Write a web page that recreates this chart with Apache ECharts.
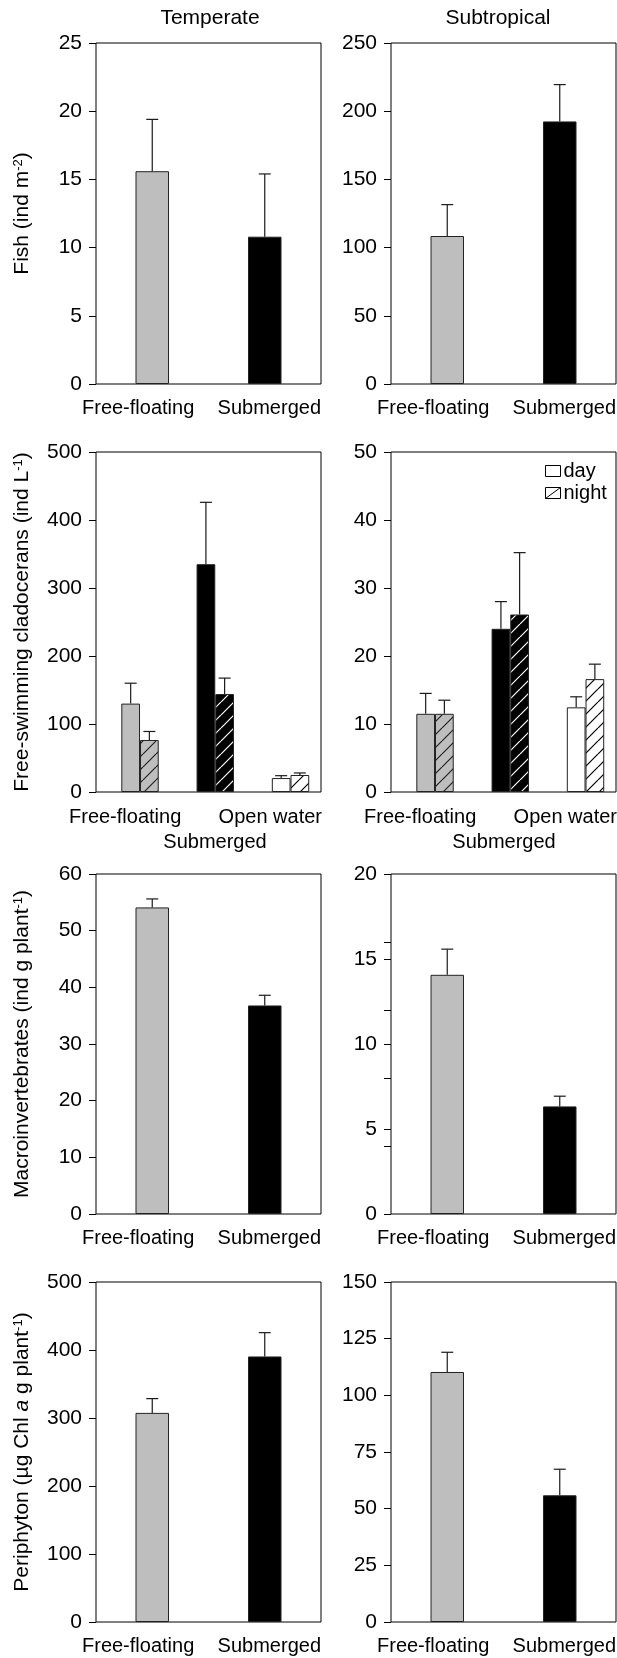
<!DOCTYPE html>
<html><head><meta charset="utf-8">
<script src="https://cdn.jsdelivr.net/npm/echarts@6/dist/echarts.min.js"></script>
<style>html,body{margin:0;padding:0;background:#fff}#c{width:617px;height:1658px}</style>
</head><body><div id="c"></div>
<script>
// ---------------- data ----------------
const columnTitles = ['Temperate', 'Subtropical'];
const groups2 = ['Free-floating', 'Submerged'];
const groups3 = ['Free-floating', 'Submerged', 'Open water'];
const seriesNames = ['day', 'night'];

// Fish (ind m-2)
const fishTemperate = [15.6, 10.8];
const fishTemperateErr = [19.4, 15.4];
const fishSubtropical = [108.5, 192.5];
const fishSubtropicalErr = [131.5, 219.5];
const fishTemperateTicks = [0, 5, 10, 15, 20, 25];
const fishSubtropicalTicks = [0, 50, 100, 150, 200, 250];

// Free-swimming cladocerans (ind L-1)
const cladTemperateDay = [130, 335, 20.5];
const cladTemperateDayErr = [160, 426, 24];
const cladTemperateNight = [76.5, 144, 25];
const cladTemperateNightErr = [89, 167.5, 28];
const cladSubtropicalDay = [11.5, 24.0, 12.45];
const cladSubtropicalDayErr = [14.5, 28.0, 14.0];
const cladSubtropicalNight = [11.5, 26.1, 16.6];
const cladSubtropicalNightErr = [13.5, 35.2, 18.8];
const cladTemperateTicks = [0, 100, 200, 300, 400, 500];
const cladSubtropicalTicks = [0, 10, 20, 30, 40, 50];

// Macroinvertebrates (ind g plant-1)
const macroTemperate = [54.1, 36.8];
const macroTemperateErr = [55.6, 38.6];
const macroSubtropical = [14.07, 6.33];
const macroSubtropicalErr = [15.58, 6.93];
const macroTemperateTicks = [0, 10, 20, 30, 40, 50, 60];
const macroSubtropicalTicks = [0, 5, 10, 15, 20];
const macroSubtropicalExtraTicks = [0, 4, 8, 12, 16, 20];

// Periphyton (ug Chl a g plant-1)
const periTemperate = [307.5, 390.5];
const periTemperateErr = [328.5, 425.5];
const periSubtropical = [110.3, 55.9];
const periSubtropicalErr = [119.0, 67.4];
const periTemperateTicks = [0, 100, 200, 300, 400, 500];
const periSubtropicalTicks = [0, 25, 50, 75, 100, 125, 150];

// ---------------- styles / layout ----------------
const FONT = '"Liberation Sans", Arial, Helvetica, sans-serif';
const catColors = ['#bebebe', '#000000', '#ffffff'];
const hatchLine = ['#222222', '#ffffff', '#000000'];
const COL_LEFT = [96, 391];
const PLOT_W = 225;
const ROW_TOP = [43, 452, 874, 1282];
const PLOT_H = [341, 340, 340, 340];
const SINGLE_BAR_W = 33.5;
const PAIR_BAR_W = 18.7;
const CAP = 6;

function hatch(bg, fg) {
  const s = 13;
  const c = document.createElement('canvas');
  c.width = s; c.height = s;
  const g = c.getContext('2d');
  g.fillStyle = bg; g.fillRect(0, 0, s, s);
  g.strokeStyle = fg; g.lineWidth = 1.2;
  g.beginPath();
  for (const k of [-1, 0, 1]) { g.moveTo(k * s, s); g.lineTo(k * s + s, 0); }
  g.stroke();
  return { image: c, repeat: 'repeat' };
}

const yNames = [
  'Fish (ind m{sup|-2})',
  'Free-swimming cladocerans (ind L{sup|-1})',
  'Macroinvertebrates (ind g plant{sup|-1})',
  'Periphyton (µg Chl {it|a} g plant{sup|-1})'
];

const panels = [
  { row: 0, col: 0, ticks: fishTemperateTicks, kind: 'single', v: fishTemperate, e: fishTemperateErr },
  { row: 0, col: 1, ticks: fishSubtropicalTicks, kind: 'single', v: fishSubtropical, e: fishSubtropicalErr },
  { row: 1, col: 0, ticks: cladTemperateTicks, kind: 'pair', d: cladTemperateDay, de: cladTemperateDayErr, n: cladTemperateNight, ne: cladTemperateNightErr },
  { row: 1, col: 1, ticks: cladSubtropicalTicks, kind: 'pair', d: cladSubtropicalDay, de: cladSubtropicalDayErr, n: cladSubtropicalNight, ne: cladSubtropicalNightErr },
  { row: 2, col: 0, ticks: macroTemperateTicks, kind: 'single', v: macroTemperate, e: macroTemperateErr },
  { row: 2, col: 1, ticks: macroSubtropicalTicks, kind: 'single', v: macroSubtropical, e: macroSubtropicalErr, extra: macroSubtropicalExtraTicks },
  { row: 3, col: 0, ticks: periTemperateTicks, kind: 'single', v: periTemperate, e: periTemperateErr },
  { row: 3, col: 1, ticks: periSubtropicalTicks, kind: 'single', v: periSubtropical, e: periSubtropicalErr }
];

const grid = [], xAxis = [], yAxis = [], series = [], graphic = [];

function errSeries(gi, yi, means, uppers, dx) {
  return {
    type: 'custom', xAxisIndex: gi, yAxisIndex: yi, clip: false, z: 5, silent: true,
    data: means.map((m, i) => [i, m, uppers[i]]),
    encode: { x: 0, y: [1, 2] },
    renderItem: function (params, api) {
      const x = api.value(0), m = api.value(1), u = api.value(2);
      const p0 = api.coord([x, m]), p1 = api.coord([x, u]);
      const cx = p0[0] + dx;
      const st = { stroke: '#1a1a1a', lineWidth: 1.2 };
      return { type: 'group', children: [
        { type: 'line', shape: { x1: cx, y1: p0[1], x2: cx, y2: p1[1] }, style: st },
        { type: 'line', shape: { x1: cx - CAP, y1: p1[1], x2: cx + CAP, y2: p1[1] }, style: st }
      ] };
    }
  };
}

panels.forEach((p, gi) => {
  const left = COL_LEFT[p.col], top = ROW_TOP[p.row], h = PLOT_H[p.row];
  grid.push({ left: left, top: top, width: PLOT_W, height: h, show: true, borderColor: '#000', borderWidth: 1,
    backgroundColor: 'transparent', containLabel: false, outerBoundsMode: 'none' });
  const pair = p.kind === 'pair';
  xAxis.push({ gridIndex: gi, type: 'value', position: 'bottom', min: pair ? -0.585 : -0.5, max: pair ? 2.405 : 1.5,
    axisLine: { show: false, onZero: false }, axisTick: { show: false }, axisLabel: { show: false }, splitLine: { show: false } });
  const yi = yAxis.length;
  const t = p.ticks;
  yAxis.push({
    gridIndex: gi, type: 'value', position: 'left', min: t[0], max: t[t.length - 1], interval: t[1] - t[0],
    axisLine: { show: false, onZero: false }, splitLine: { show: false },
    axisTick: { show: true, length: 7, lineStyle: { color: '#000', width: 1 } },
    axisLabel: { show: true, margin: 14, fontSize: 21, color: '#000', fontFamily: FONT, showMinLabel: true, showMaxLabel: true,
      formatter: v => { const i = t.indexOf(v); return i >= 0 ? String(t[i]) : ''; } },
    name: p.col === 0 ? yNames[p.row] : '', nameLocation: 'middle', nameGap: 63,
    nameTextStyle: { fontSize: 21, color: '#000', fontFamily: FONT,
      rich: { sup: { fontSize: 13, color: '#000', fontFamily: FONT, verticalAlign: 'top' },
              it: { fontSize: 21, color: '#000', fontFamily: FONT, fontStyle: 'italic' } } }
  });
  if (p.extra) {
    const e = p.extra;
    yAxis.push({ gridIndex: gi, type: 'value', position: 'left', offset: 0, min: e[0], max: e[e.length - 1], interval: e[1] - e[0],
      axisLine: { show: false, onZero: false }, splitLine: { show: false }, axisLabel: { show: false },
      axisTick: { show: true, length: 7, lineStyle: { color: '#000', width: 1 } } });
  }
  const border = { borderColor: '#222', borderWidth: 1 };
  if (!pair) {
    series.push({ type: 'bar', xAxisIndex: gi, yAxisIndex: yi, barWidth: SINGLE_BAR_W, silent: true,
      data: p.v.map((v, i) => ({ value: [i, v], itemStyle: Object.assign({ color: catColors[i] }, border) })) });
    series.push(errSeries(gi, yi, p.v, p.e, 0));
  } else {
    series.push({ name: seriesNames[0], type: 'bar', xAxisIndex: gi, yAxisIndex: yi, barWidth: PAIR_BAR_W, barGap: '0%', silent: true,
      itemStyle: Object.assign({ color: '#fff' }, border),
      data: p.d.map((v, i) => ({ value: [i, v], itemStyle: Object.assign({ color: catColors[i] }, border) })) });
    series.push({ name: seriesNames[1], type: 'bar', xAxisIndex: gi, yAxisIndex: yi, barWidth: PAIR_BAR_W, barGap: '0%', silent: true,
      itemStyle: Object.assign({ color: hatch('#fff', '#000') }, border),
      data: p.n.map((v, i) => ({ value: [i, v], itemStyle: Object.assign({ color: hatch(catColors[i], hatchLine[i]) }, border) })) });
    series.push(errSeries(gi, yi, p.d, p.de, -PAIR_BAR_W / 2));
    series.push(errSeries(gi, yi, p.n, p.ne, PAIR_BAR_W / 2));
  }

  // category labels
  const bottom = top + h;
  const txt = (text, x, y, align) => graphic.push({ type: 'text', x: x, y: y, silent: true,
    style: { text: text, font: '20px ' + FONT, fill: '#000', align: align, textAlign: align, verticalAlign: 'middle', textVerticalAlign: 'middle' } });
  if (!pair) {
    txt(groups2[0], left - 14, bottom + 24, 'left');
    txt(groups2[1], left + PLOT_W, bottom + 24, 'right');
  } else {
    txt(groups3[0], left - 27, bottom + 25, 'left');
    txt(groups3[2], left + PLOT_W + 1, bottom + 25, 'right');
    txt(groups3[1], p.col === 0 ? 215 : 504, bottom + 50, 'center');
  }
});

// column titles
[210, 498].forEach((x, i) => graphic.push({ type: 'text', x: x, y: 18, silent: true,
  style: { text: columnTitles[i], font: '21px ' + FONT, fill: '#000', align: 'center', textAlign: 'center', verticalAlign: 'middle', textVerticalAlign: 'middle' } }));

const chart = echarts.init(document.getElementById('c'), null, { renderer: 'canvas' });
chart.setOption({
  animation: false,
  backgroundColor: '#fff',
  grid: grid, xAxis: xAxis, yAxis: yAxis, series: series, graphic: graphic,
  legend: {
    show: true, orient: 'vertical', left: 540, top: 456, itemWidth: 15, itemHeight: 11, itemGap: 2, selectedMode: false,
    textStyle: { fontSize: 20, color: '#000', fontFamily: FONT, padding: [0, 0, 0, -2] },
    data: [
      { name: 'day', icon: 'rect', itemStyle: { color: '#fff', borderColor: '#000', borderWidth: 1 } },
      { name: 'night', icon: 'path://M0,0L15,0L15,11L0,11Z M0,11L15,0', itemStyle: { color: '#fff', borderColor: '#000', borderWidth: 1 } }
    ]
  }
});
</script></body></html>
